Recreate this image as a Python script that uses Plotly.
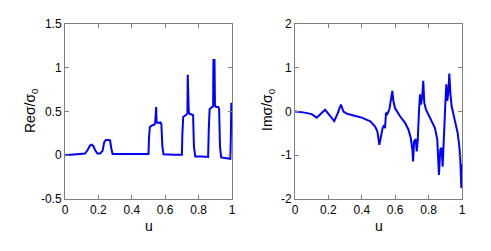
import plotly.graph_objects as go

# Real part data
re_u = [0, 0.05, 0.10, 0.12, 0.135, 0.15, 0.16, 0.17, 0.18, 0.194, 0.21, 0.225, 0.235, 0.245, 0.26, 0.27, 0.277, 0.285,
        0.35, 0.45, 0.50, 0.503, 0.508, 0.52, 0.535, 0.54, 0.542, 0.544, 0.546, 0.548, 0.555, 0.57, 0.577, 0.583, 0.59,
        0.65, 0.70, 0.703, 0.708, 0.725, 0.733, 0.735, 0.737, 0.739, 0.741, 0.745, 0.76, 0.767, 0.772, 0.78,
        0.82, 0.857, 0.861, 0.866, 0.88, 0.887, 0.889, 0.892, 0.895, 0.898, 0.905, 0.918, 0.923, 0.928, 0.935,
        0.96, 0.99, 0.993, 0.996]
re_v = [0, 0.005, 0.012, 0.02, 0.06, 0.11, 0.12, 0.105, 0.06, 0.02, 0.02, 0.05, 0.15, 0.175, 0.175, 0.17, 0.08, 0.015,
        0.015, 0.015, 0.015, 0.2, 0.32, 0.34, 0.35, 0.37, 0.55, 0.38, 0.55, 0.38, 0.37, 0.375, 0.36, 0.1, 0.01,
        0.005, 0.005, 0.25, 0.44, 0.46, 0.48, 0.92, 0.5, 0.92, 0.5, 0.475, 0.47, 0.46, 0.1, -0.015,
        -0.015, -0.02, 0.3, 0.525, 0.55, 0.56, 1.1, 0.6, 1.1, 0.57, 0.55, 0.55, 0.53, 0.1, -0.025,
        -0.03, -0.04, 0.2, 0.6]

# Imaginary part data
im_u = [0, 0.05, 0.10, 0.13, 0.155, 0.18, 0.21, 0.235, 0.255, 0.275, 0.29, 0.31, 0.35, 0.40, 0.43, 0.449, 0.479,
        0.493, 0.505, 0.513, 0.525, 0.533, 0.539, 0.545, 0.553, 0.565, 0.573, 0.583, 0.589, 0.599, 0.629, 0.659,
        0.679, 0.693, 0.703, 0.707, 0.713, 0.723, 0.729, 0.735, 0.743, 0.749, 0.754, 0.762, 0.768, 0.774, 0.784,
        0.808, 0.838, 0.852, 0.862, 0.87, 0.878, 0.884, 0.892, 0.90, 0.906, 0.912, 0.918, 0.924, 0.93, 0.938,
        0.958, 0.974, 0.984, 0.99, 0.996, 1.0]
im_v = [0, -0.02, -0.06, -0.14, -0.05, 0.04, -0.1, -0.22, -0.05, 0.16, 0.0, -0.05, -0.09, -0.14, -0.19, -0.22, -0.34,
        -0.45, -0.76, -0.57, -0.38, -0.31, -0.38, -0.03, -0.06, 0.05, 0.2, 0.47, 0.24, 0.08, -0.11, -0.26,
        -0.41, -0.6, -0.87, -1.14, -0.68, -0.63, -0.91, -0.66, 0.05, 0.39, 0.16, 0.35, 0.7, 0.2, 0.05,
        -0.15, -0.38, -0.64, -1.45, -0.87, -0.83, -1.26, -0.34, 0.16, 0.62, 0.24, 0.43, 0.87, 0.43, 0.12,
        -0.22, -0.49, -0.8, -1.1, -1.75, -1.2]

x_ticks = [0, 0.2, 0.4, 0.6, 0.8, 1]
x_ticktext = ["0", "0.2", "0.4", "0.6", "0.8", "1"]
re_yticks = [-0.5, 0, 0.5, 1, 1.5]
re_yticktext = ["-0.5", "0", "0.5", "1", "1.5"]
im_yticks = [-2, -1, 0, 1, 2]
im_yticktext = ["-2", "-1", "0", "1", "2"]

W, H = 491, 251
font = dict(family="Liberation Sans, Arial, sans-serif", size=12, color="black")

fig = go.Figure()
fig.add_trace(go.Scatter(x=re_u, y=re_v, mode="lines", line=dict(color="#0000ff", width=2),
                         xaxis="x", yaxis="y", showlegend=False))
fig.add_trace(go.Scatter(x=im_u, y=im_v, mode="lines", line=dict(color="#0000ff", width=2),
                         xaxis="x2", yaxis="y2", showlegend=False))

ydom = [1 - 199 / H, 1 - 24 / H]
axis_common = dict(showline=True, mirror="ticks", linecolor="#808080", linewidth=1, ticks="inside",
                   ticklen=4, tickcolor="#808080", showgrid=False, zeroline=False, tickfont=font,
                   automargin=False)

fig.update_layout(
    template="none",
    width=W, height=H, margin=dict(l=0, r=0, t=0, b=0, autoexpand=False),
    paper_bgcolor="white", plot_bgcolor="white", font=font,
    xaxis=dict(domain=[65 / W, 232 / W], range=[0, 1], tickvals=x_ticks, ticktext=x_ticktext,
               anchor="y", **axis_common),
    yaxis=dict(domain=ydom, range=[-0.5, 1.5], tickvals=re_yticks, ticktext=re_yticktext,
               anchor="x", **axis_common),
    xaxis2=dict(domain=[295 / W, 462 / W], range=[0, 1], tickvals=x_ticks, ticktext=x_ticktext,
                anchor="y2", **axis_common),
    yaxis2=dict(domain=ydom, range=[-2, 2], tickvals=im_yticks, ticktext=im_yticktext,
                anchor="x2", **axis_common),
)

title_font = dict(family="Liberation Sans, Arial, sans-serif", size=14, color="black")
ann = dict(xref="paper", yref="paper", showarrow=False, font=title_font,
           xanchor="center", yanchor="middle")
fig.add_annotation(text="u", x=148.5 / W, y=1 - 226 / H, **ann)
fig.add_annotation(text="u", x=378.5 / W, y=1 - 226 / H, **ann)
fig.add_annotation(text="Reσ/σ<sub>0</sub>", x=31 / W, y=1 - 111 / H, textangle=-90, **ann)
fig.add_annotation(text="Imσ/σ<sub>0</sub>", x=268 / W, y=1 - 110 / H, textangle=-90, **ann)

fig.write_html("out.html", config={"displayModeBar": False},
               post_script="document.body.style.margin='0';")
